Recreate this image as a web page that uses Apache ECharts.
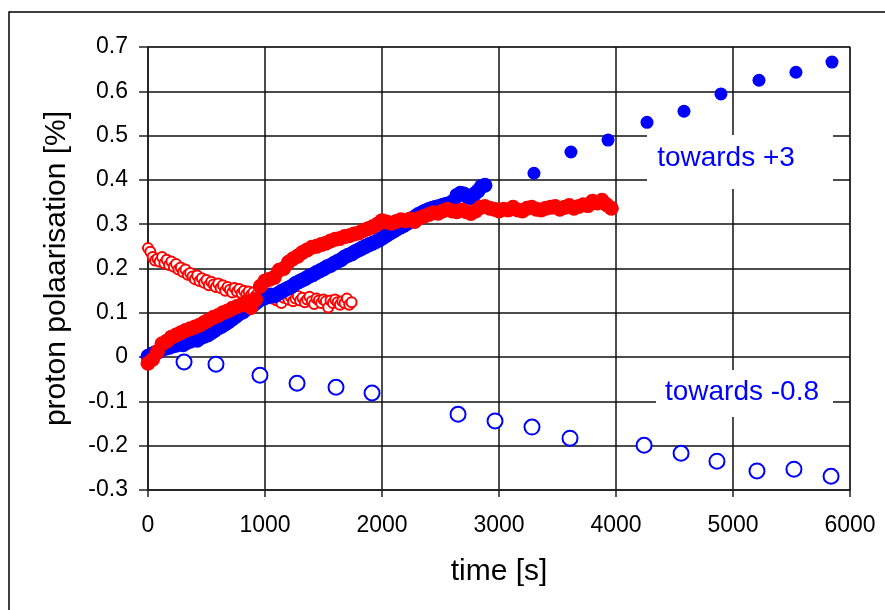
<!DOCTYPE html>
<html>
<head>
<meta charset="utf-8">
<script src="https://cdn.jsdelivr.net/npm/echarts@6/dist/echarts.min.js"></script>
<style>
html,body{margin:0;padding:0;background:#fff;}
#chart{width:885px;height:610px;}
</style>
</head>
<body>
<div id="chart"></div>
<script>
// x ticks / y ticks
var xTicks = [0, 1000, 2000, 3000, 4000, 5000, 6000];
var yTicks = [-0.3, -0.2, -0.1, 0, 0.1, 0.2, 0.3, 0.4, 0.5, 0.6, 0.7];

// open red circles (small), decreasing
var redOpen = [
	[0,0.246],[20,0.238],[40,0.226],[60,0.218],[80,0.222],[100,0.215],[120,0.226],[140,0.212],[160,0.220],[180,0.208],
	[200,0.216],[220,0.204],[240,0.210],[260,0.198],[280,0.202],[300,0.192],[320,0.198],[340,0.186],[360,0.190],[380,0.182],
	[400,0.176],[420,0.184],[440,0.172],[460,0.178],[480,0.168],[500,0.174],[520,0.162],[540,0.170],[560,0.164],[580,0.158],
	[600,0.166],[620,0.156],[640,0.162],[660,0.150],[680,0.158],[700,0.152],[720,0.146],[740,0.156],[760,0.148],[780,0.154],
	[800,0.144],[820,0.150],[840,0.142],[860,0.148],[880,0.140],[900,0.146],[920,0.138],[940,0.144],[960,0.140],[980,0.136],
	[1000,0.142],[1020,0.134],[1040,0.140],[1060,0.132],[1080,0.138],[1100,0.128],[1120,0.136],[1140,0.122],[1160,0.134],[1180,0.140],
	[1200,0.130],[1220,0.136],[1240,0.126],[1260,0.132],[1280,0.138],[1300,0.128],[1320,0.134],[1340,0.124],[1360,0.130],[1380,0.136],
	[1400,0.126],[1420,0.120],[1440,0.132],[1460,0.128],[1480,0.122],[1500,0.130],[1520,0.126],[1540,0.112],[1560,0.128],[1580,0.122],
	[1600,0.130],[1620,0.124],[1640,0.118],[1660,0.126],[1680,0.122],[1700,0.132],[1720,0.118],[1740,0.124]
];

// filled blue, dense part
var blueDense = [
	[0,0.002],[30,0.006],[60,0.010],[90,0.012],[120,0.018],[150,0.020],[180,0.022],[210,0.025],[240,0.027],[270,0.030],
	[300,0.028],[330,0.033],[360,0.036],[390,0.040],[420,0.038],[450,0.044],[480,0.047],[510,0.050],[540,0.055],[570,0.060],
	[600,0.066],[630,0.070],[660,0.075],[690,0.080],[720,0.086],[750,0.092],[780,0.098],[810,0.102],[840,0.108],[870,0.112],
	[900,0.118],[930,0.124],[960,0.130],[990,0.133],[1020,0.136],[1050,0.140],[1080,0.138],[1110,0.143],[1140,0.148],[1170,0.152],
	[1200,0.156],[1230,0.160],[1260,0.166],[1290,0.170],[1320,0.174],[1350,0.178],[1380,0.183],[1410,0.186],[1440,0.191],[1470,0.195],
	[1500,0.199],[1530,0.204],[1560,0.207],[1590,0.212],[1620,0.216],[1650,0.220],[1680,0.226],[1710,0.230],[1740,0.233],[1770,0.238],
	[1800,0.242],[1830,0.246],[1860,0.250],[1890,0.254],[1920,0.257],[1950,0.261],[1980,0.265],[2010,0.270],[2040,0.275],[2070,0.280],
	[2100,0.285],[2130,0.290],[2160,0.294],[2190,0.298],[2220,0.303],[2250,0.310],[2280,0.316],[2310,0.322],[2340,0.326],[2370,0.330],
	[2400,0.333],[2430,0.336],[2460,0.338],[2490,0.340],[2520,0.343],[2550,0.345],[2580,0.347],[2610,0.352],[2640,0.365],[2670,0.370],
	[2700,0.368],[2730,0.362],[2760,0.360],[2790,0.368],[2820,0.375],[2850,0.385],[2880,0.388]
];

// filled red, dense
var redDense = [
	[0,-0.014],[40,-0.005],[80,0.012],[120,0.030],[160,0.036],[200,0.045],[240,0.050],[280,0.055],[320,0.060],[360,0.064],
	[400,0.068],[440,0.072],[480,0.078],[520,0.084],[560,0.090],[600,0.094],[640,0.100],[680,0.104],[720,0.110],[760,0.114],
	[800,0.118],[840,0.125],[880,0.112],[920,0.130],[960,0.160],[1000,0.172],[1040,0.176],[1080,0.180],[1120,0.196],[1160,0.200],
	[1200,0.214],[1240,0.222],[1280,0.228],[1320,0.236],[1360,0.242],[1400,0.248],[1440,0.250],[1480,0.254],[1520,0.257],[1560,0.262],
	[1600,0.266],[1640,0.268],[1680,0.272],[1720,0.274],[1760,0.278],[1800,0.280],[1840,0.286],[1880,0.290],[1920,0.294],[1960,0.300],
	[2000,0.308],[2040,0.305],[2080,0.302],[2120,0.306],[2160,0.310],[2200,0.308],[2240,0.312],[2280,0.306],[2320,0.314],[2360,0.318],
	[2400,0.322],[2440,0.326],[2480,0.325],[2520,0.330],[2560,0.334],[2600,0.330],[2640,0.328],[2680,0.332],[2720,0.328],[2760,0.324],
	[2800,0.330],[2840,0.338],[2880,0.340],[2920,0.336],[2960,0.334],[3000,0.330],[3040,0.334],[3080,0.332],[3120,0.338],[3160,0.332],
	[3200,0.330],[3240,0.336],[3280,0.338],[3320,0.334],[3360,0.332],[3400,0.336],[3440,0.338],[3480,0.340],[3520,0.334],[3560,0.338],
	[3600,0.342],[3640,0.336],[3680,0.340],[3720,0.344],[3760,0.342],[3800,0.352],[3840,0.348],[3880,0.354],[3920,0.344],[3960,0.336]
];

// filled blue, sparse (towards +3)
var blueUp = [[3299,0.415],[3615,0.463],[3932,0.490],[4265,0.530],[4581,0.555],[4897,0.594],[5222,0.625],[5538,0.643],[5846,0.666]];

// open blue (towards -0.8)
var blueDown = [[308,-0.011],[581,-0.016],[957,-0.041],[1274,-0.059],[1607,-0.068],[1915,-0.081],[2650,-0.129],[2966,-0.144],
	[3282,-0.158],[3607,-0.183],[4240,-0.199],[4556,-0.217],[4863,-0.235],[5205,-0.257],[5521,-0.253],[5838,-0.269]];

var font = 'Liberation Sans, Arial, sans-serif';
var chart = echarts.init(document.getElementById('chart'));
var option = {
	animation: false,
	backgroundColor: '#fff',
	grid: {left: 148, right: 35, top: 47, bottom: 120, show: true, borderColor: '#888', borderWidth: 1.5, backgroundColor: 'transparent'},
	xAxis: {
		type: 'value',
		min: xTicks[0], max: xTicks[xTicks.length - 1], interval: 1000,
		name: 'time [s]', nameLocation: 'middle', nameGap: 67,
		nameTextStyle: {fontFamily: font, fontSize: 30, color: '#000'},
		axisLine: {onZero: false, lineStyle: {color: '#222', width: 1.5}},
		axisTick: {show: true, length: 7, lineStyle: {color: '#222', width: 1.5}},
		axisLabel: {fontFamily: font, fontSize: 23, color: '#000', margin: 24,
			formatter: function (v) { return String(v); }},
		splitLine: {show: true, lineStyle: {color: '#111', width: 1.5}}
	},
	yAxis: {
		type: 'value',
		min: yTicks[0], max: yTicks[yTicks.length - 1], interval: 0.1,
		name: 'proton polaarisation [%]', nameLocation: 'middle', nameGap: 76, nameRotate: 90,
		nameTextStyle: {fontFamily: font, fontSize: 30, color: '#000'},
		axisLine: {show: true, lineStyle: {color: '#222', width: 1.5}},
		axisTick: {show: true, length: 9, lineStyle: {color: '#222', width: 1.5}},
		axisLabel: {fontFamily: font, fontSize: 23, color: '#000', margin: 20,
			formatter: function (v) { var r = Math.round(v * 10) / 10; return r === 0 ? '0' : r.toFixed(1); }},
		splitLine: {show: true, lineStyle: {color: '#111', width: 1.5}}
	},
	series: [
		{type: 'scatter', data: redOpen, symbol: 'emptyCircle', symbolSize: 10,
			itemStyle: {color: '#ff0000', borderColor: '#ff0000', borderWidth: 1.3, opacity: 1}},
		{type: 'scatter', data: blueDense, symbol: 'circle', symbolSize: 15,
			itemStyle: {color: '#0000ff', opacity: 1}},
		{type: 'scatter', data: redDense, symbol: 'circle', symbolSize: 15,
			itemStyle: {color: '#ff0000', opacity: 1}},
		{type: 'scatter', data: blueUp, symbol: 'circle', symbolSize: 13,
			itemStyle: {color: '#0000ff', opacity: 1}},
		{type: 'scatter', data: blueDown, symbol: 'emptyCircle', symbolSize: 15,
			itemStyle: {color: '#0000ff', borderColor: '#0000ff', borderWidth: 1.8, opacity: 1}}
	],
	graphic: [
		{type: 'rect', z: 100, shape: {x: 9, y: 12, width: 900, height: 700}, style: {fill: 'none', stroke: '#000', lineWidth: 1.5}, silent: true},
		{type: 'rect', z: 100, shape: {x: 647, y: 135, width: 186, height: 54}, style: {fill: '#fff'}, silent: true},
		{type: 'text', z: 101, x: 726, y: 158, style: {text: 'towards +3', fill: '#0000ff', font: '28px ' + font, textAlign: 'center', textVerticalAlign: 'middle'}},
		{type: 'rect', z: 100, shape: {x: 656, y: 370, width: 177, height: 47}, style: {fill: '#fff'}, silent: true},
		{type: 'text', z: 101, x: 742, y: 392, style: {text: 'towards -0.8', fill: '#0000ff', font: '28px ' + font, textAlign: 'center', textVerticalAlign: 'middle'}}
	]
};
chart.setOption(option);
</script>
</body>
</html>
